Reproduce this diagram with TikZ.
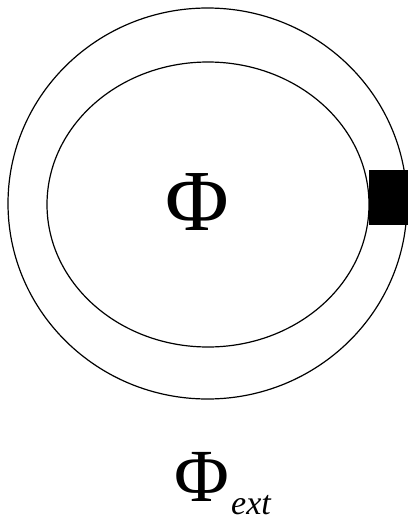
\documentclass[tikz,border=0pt]{standalone}
\usepackage{fontspec}
\setmainfont{Liberation Serif}
\usetikzlibrary{positioning}
\tikzset{
  rimline/.style={draw=black, line width=1.2pt},
  rimlabel/.style={inner sep=0pt, anchor=base, text=black},
  every picture/.style={line cap=round},
}
\begin{document}
\begin{tikzpicture}[x=1pt, y=-1pt]
\useasboundingbox (0,0) rectangle (408,522);

% Outer ring and inner region.
\draw[rimline] (207.5,203.5) ellipse [x radius=199.5, y radius=195.5];
\draw[rimline] (208,204.5) ellipse [x radius=161, y radius=142.5];

% Contact block on the right side.
\fill[black] (369,170) rectangle (408,225);

% Labels.
\node[rimlabel, font=\fontsize{87}{87}\selectfont] (phiin) at (197,230) {Φ};
\node[rimlabel, font=\fontsize{75}{75}\selectfont] (phiext) at (202,501) {Φ};
\node[rimlabel, anchor=base west, font=\fontsize{34}{34}\selectfont\itshape]
  (extsub) at (231,514) {ext};

\end{tikzpicture}
\end{document}
